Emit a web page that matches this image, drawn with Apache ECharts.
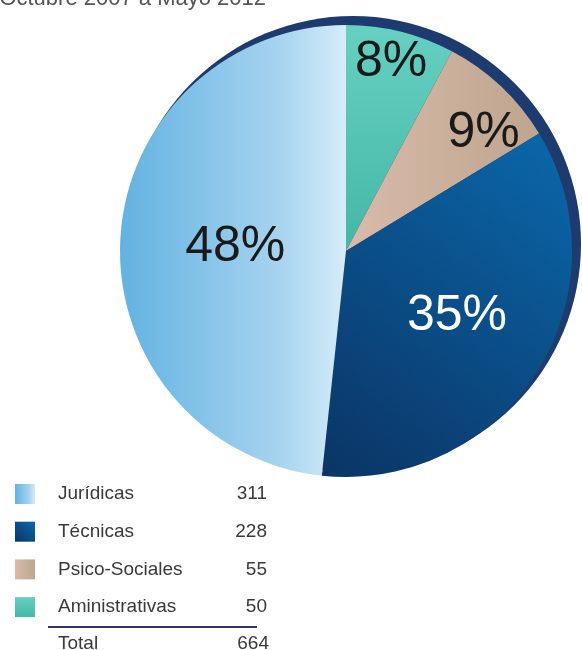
<!DOCTYPE html>
<html>
<head>
<meta charset="utf-8">
<script src="https://cdn.jsdelivr.net/npm/echarts@6/dist/echarts.min.js"></script>
<style>
html,body{margin:0;padding:0;background:#fff;}
#chart{width:582px;height:650px;}
</style>
</head>
<body>
<div id="chart"></div>
<script>
// Data (clockwise from 12 o'clock)
var categories = ['Aministrativas', 'Psico-Sociales', 'Técnicas', 'Jurídicas'];
var values = [50, 55, 228, 311];
var pctLabels = ['8%', '9%', '35%', '48%'];
var legendOrder = ['Jurídicas', 'Técnicas', 'Psico-Sociales', 'Aministrativas'];
var titleText = 'Octubre 2007 a Mayo 2012';
var totalLabel = 'Total';
var totalValue = 664; // as printed in the source table

// Styles
var FONT = 'Liberation Sans, Arial, sans-serif';
var sliceColors = {
  'Aministrativas': new echarts.graphic.LinearGradient(0, 0, 0, 1, [
    {offset: 0, color: '#66d0c1'}, {offset: 1, color: '#45b7a6'}]),
  'Psico-Sociales': new echarts.graphic.LinearGradient(0, 0, 1, 0, [
    {offset: 0, color: '#d8bba9'}, {offset: 1, color: '#bea58e'}]),
  'Técnicas': new echarts.graphic.LinearGradient(0, 1, 1, 0, [
    {offset: 0, color: '#0b3465'}, {offset: 1, color: '#0a68ab'}]),
  'Jurídicas': new echarts.graphic.LinearGradient(0, 0, 1, 0, [
    {offset: 0, color: '#63b2e1'}, {offset: 0.7, color: '#a6d3ef'}, {offset: 1, color: '#d6ecf9'}])
};
var labelColors = {'Aministrativas': '#1a1a1a', 'Psico-Sociales': '#1a1a1a', 'Técnicas': '#ffffff', 'Jurídicas': '#1a1a1a'};
var labelOffsets = {'Aministrativas': [17, -76], 'Psico-Sociales': [58, -33], 'Técnicas': [13, 3], 'Jurídicas': [5, 2]};

var valueByName = {};
categories.forEach(function (c, i) { valueByName[c] = values[i]; });

var pieData = categories.map(function (c, i) {
  return {
    name: c,
    value: values[i],
    itemStyle: {color: sliceColors[c]},
    label: {color: labelColors[c], offset: labelOffsets[c]}
  };
});

var chart = echarts.init(document.getElementById('chart'), null, {renderer: 'canvas'});
chart.setOption({
  animation: false,
  backgroundColor: '#ffffff',
  legend: {
    orient: 'vertical',
    left: 15,
    top: 484,
    padding: 0,
    itemWidth: 20,
    itemHeight: 20,
    itemGap: 17.7,
    selectedMode: false,
    icon: 'rect',
    data: legendOrder,
    formatter: function (name) {
      return '{n|' + name + '}{v|' + valueByName[name] + '}';
    },
    textStyle: {
      fontFamily: FONT,
      fontSize: 19,
      color: '#3a3a3a',
      rich: {
        n: {fontFamily: FONT, fontSize: 19, color: '#3a3a3a', width: 160, padding: [0, 0, 0, 18]},
        v: {fontFamily: FONT, fontSize: 19, color: '#3a3a3a', width: 49, align: 'right'}
      }
    }
  },
  series: [
    {
      type: 'pie',
      silent: true,
      center: [353, 244],
      radius: 228,
      label: {show: false},
      labelLine: {show: false},
      data: [{name: 'rim', value: 1, itemStyle: {color: '#1d3b6e'}}],
      z: 1
    },
    {
      type: 'pie',
      center: [346, 251],
      radius: 226,
      startAngle: 90,
      clockwise: true,
      silent: true,
      label: {
        show: true,
        position: 'inside',
        fontFamily: FONT,
        fontSize: 50,
        formatter: function (p) { return pctLabels[p.dataIndex]; }
      },
      labelLine: {show: false},
      data: pieData,
      z: 2
    }
  ],
  graphic: [
    {
      type: 'text',
      x: 266, y: 10,
      style: {text: titleText, font: '22px ' + FONT, fill: '#555', textAlign: 'right', textVerticalAlign: 'bottom'}
    },
    {
      type: 'line',
      shape: {x1: 48, y1: 627, x2: 257, y2: 627},
      style: {stroke: '#2f3766', lineWidth: 2}
    },
    {
      type: 'text',
      x: 58, y: 644,
      style: {text: totalLabel, font: '19px ' + FONT, fill: '#3a3a3a', textVerticalAlign: 'middle'}
    },
    {
      type: 'text',
      x: 269, y: 644,
      style: {text: String(totalValue), font: '19px ' + FONT, fill: '#3a3a3a', textAlign: 'right', textVerticalAlign: 'middle'}
    }
  ]
});
</script>
</body>
</html>
